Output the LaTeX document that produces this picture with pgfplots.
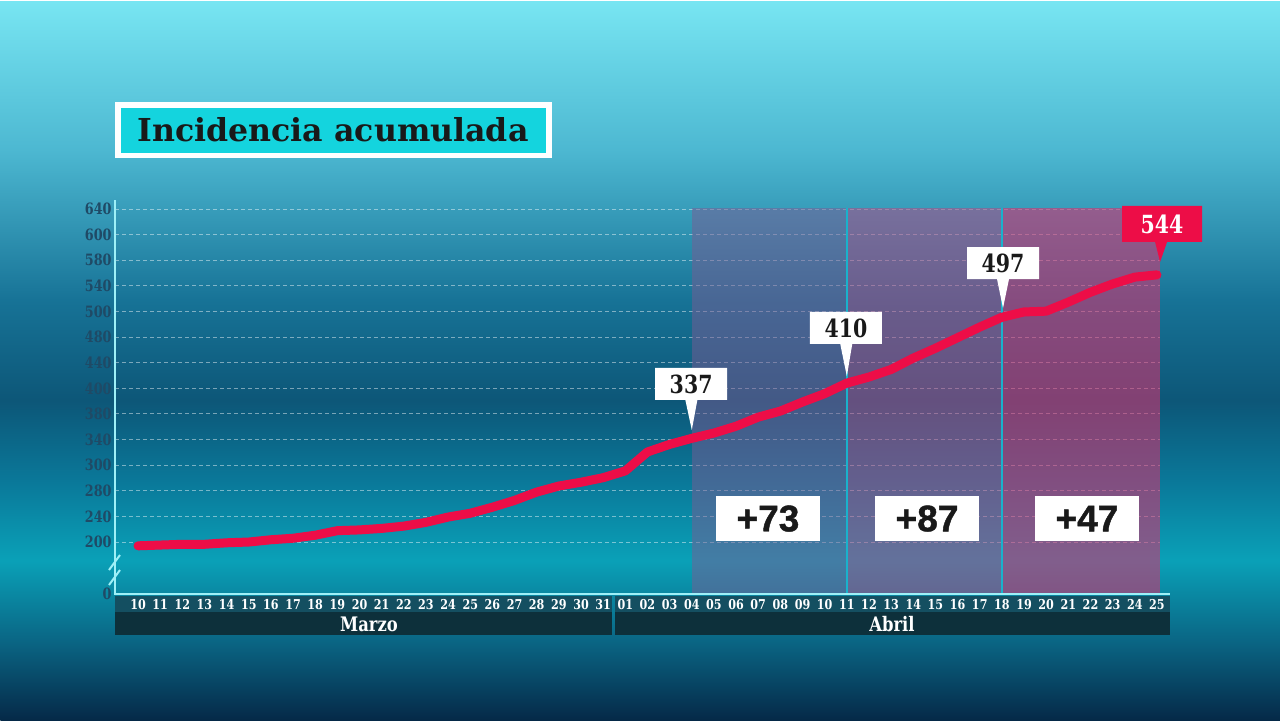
\documentclass[border=0pt]{standalone}
\usepackage{fontspec}
\setmainfont{DejaVu Serif}
\newfontfamily\slab{DejaVu Serif}[FakeStretch=0.82]
\newfontfamily\heavy{Liberation Sans}[FakeBold=1.2]
\usepackage{pgfplots}
\pgfplotsset{compat=1.18}
\usetikzlibrary{shapes.callouts}

\definecolor{linered}{rgb}{0.93,0.05,0.28}
\definecolor{ylab}{rgb}{0.12,0.29,0.40}
\definecolor{axiscyan}{rgb}{0.62,0.94,0.97}
\definecolor{titlecyan}{rgb}{0.08,0.83,0.87}
\definecolor{rowdark}{rgb}{0.08,0.31,0.38}
\definecolor{monthdark}{rgb}{0.05,0.19,0.23}
\definecolor{sepcyan}{rgb}{0.10,0.70,0.80}
\definecolor{regA}{rgb}{0.48,0.36,0.58}
\definecolor{regB}{rgb}{0.68,0.30,0.52}
\definecolor{regC}{rgb}{0.82,0.20,0.44}

\pgfdeclareverticalshading{bgshade}{640bp}{%
  rgb(0bp)=(0.02,0.16,0.28);
  rgb(40bp)=(0.04,0.40,0.52);
  rgb(80bp)=(0.04,0.63,0.72);
  rgb(120bp)=(0.04,0.47,0.60);
  rgb(160bp)=(0.05,0.34,0.47);
  rgb(210bp)=(0.09,0.45,0.59);
  rgb(285bp)=(0.30,0.72,0.82);
  rgb(360bp)=(0.47,0.90,0.95)}

% incidencia acumulada, 10 marzo (x=0) .. 25 abril (x=46)
\pgfplotstableread{
x y
0 195
1 196
2 197
3 197
4 199
5 200
6 203
7 205
8 209
9 215
10 216
11 218
12 221
13 226
14 233
15 238
16 246
17 255
18 266
19 274
20 279
21 285
22 294
23 319
24 329
25 337
26 344
27 353
28 365
29 373
30 385
31 396
32 410
33 418
34 428
35 443
36 456
37 470
38 484
39 497
40 504
41 505
42 517
43 530
44 541
45 550
46 553
}\incidencia

\begin{document}
\begin{tikzpicture}[x=0.5bp,y=-0.5bp]
\path[use as bounding box] (0,0) rectangle (1280,720);
\node[inner sep=0,anchor=north west] at (0,0) {\pgfuseshading{bgshade}};

% bandas de fechas
\fill[rowdark] (115,596) rectangle (612,612);
\fill[monthdark] (115,612) rectangle (612,635);
\fill[rowdark] (615,596) rectangle (1170,612);
\fill[monthdark] (615,612) rectangle (1170,635);
\node[text=white,font=\slab\bfseries\fontsize{10bp}{11bp}\selectfont] at (369,624) {Marzo};
\node[text=white,font=\slab\bfseries\fontsize{10bp}{11bp}\selectfont] at (892,624) {Abril};

% titulo
\fill[white] (115,102) rectangle (552,158);
\fill[titlecyan] (121,108) rectangle (546,153);
\node[text=black!90,font=\bfseries\fontsize{15.8bp}{18bp}\selectfont] at (333,130) {Incidencia acumulada};

\begin{axis}[
  at={(57.5bp,-297bp)}, anchor=south west,
  scale only axis, width=522.5bp, height=197bp,
  xmin=-1.04, xmax=46.14, ymin=131.3, ymax=651.9,
  axis line style={draw=none}, tick style={draw=none},
  major tick length=0pt,
  xtick={0,...,46},
  xticklabels={10,11,12,13,14,15,16,17,18,19,20,21,22,23,24,25,26,27,28,29,30,31,
    01,02,03,04,05,06,07,08,09,10,11,12,13,14,15,16,17,18,19,20,21,22,23,24,25},
  ytick={200,233.85,267.69,301.54,335.38,369.23,403.08,436.92,470.77,504.62,538.46,572.31,606.15,640},
  yticklabels={200,240,280,300,340,380,400,440,480,500,540,580,600,640},
  extra y ticks={131.3}, extra y tick labels={0},
  extra y tick style={grid=none},
  ymajorgrids,
  grid style={white, opacity=0.45, line width=0.5bp, dash pattern=on 2bp off 1.5bp},
  xticklabel style={font=\slab\bfseries\fontsize{6.8bp}{7bp}\selectfont, text=white,
    anchor=center, inner sep=0, yshift=-5.25bp},
  yticklabel style={font=\slab\bfseries\fontsize{7.8bp}{8bp}\selectfont, text=ylab,
    anchor=east, inner sep=0, xshift=-1.5bp},
  clip=false,
]
% franjas semanales
\addplot[draw=none, fill=regA, fill opacity=0.5] coordinates {(25,131.3) (25,641.3) (32,641.3) (32,131.3)};
\addplot[draw=none, fill=regB, fill opacity=0.55] coordinates {(32,131.3) (32,641.3) (39,641.3) (39,131.3)};
\addplot[draw=none, fill=regC, fill opacity=0.6] coordinates {(39,131.3) (39,641.3) (46.14,641.3) (46.14,131.3)};
\addplot[sepcyan, line width=1bp] coordinates {(32,131.3) (32,641.3)};
\addplot[sepcyan, line width=1bp] coordinates {(39,131.3) (39,641.3)};

\addplot[linered, line width=4.5bp, line join=round, line cap=round] table[x=x,y=y] {\incidencia};

% etiquetas
\tikzset{cbox/.style={rectangle callout, fill=white, inner sep=0, minimum width=36bp,
    minimum height=16bp, callout pointer width=6bp, text=black!90,
    font=\slab\bfseries\fontsize{12.5bp}{13bp}\selectfont}}
\node[cbox, callout absolute pointer={(axis cs:25,348)}] at (axis cs:24.97,408.8) {337};
\node[cbox, callout absolute pointer={(axis cs:32,419)}] at (axis cs:31.96,482.8) {410};
\node[cbox, callout absolute pointer={(axis cs:39.05,509)}] at (axis cs:39.05,568.6) {497};
\node[cbox, fill=linered, text=white, minimum width=40bp, minimum height=18bp,
  callout absolute pointer={(axis cs:46.14,570)}] at (axis cs:46.23,620.2) {544};

\tikzset{dbox/.style={fill=white, inner sep=0, minimum width=52bp, minimum height=22.5bp,
    text=black!90, font=\heavy\bfseries\fontsize{18.5bp}{19bp}\selectfont}}
\node[dbox] at (axis cs:28.44,231) {+73};
\node[dbox] at (axis cs:35.62,231) {+87};
\node[dbox] at (axis cs:42.84,231) {+47};
\end{axis}

% ejes
\draw[axiscyan, line width=0.8bp] (115,200) -- (115,594) -- (1170,594);
\draw[axiscyan, line width=1bp] (120,555) -- (109,570);
\draw[axiscyan, line width=1bp] (120,570) -- (109,585);
\end{tikzpicture}
\end{document}
